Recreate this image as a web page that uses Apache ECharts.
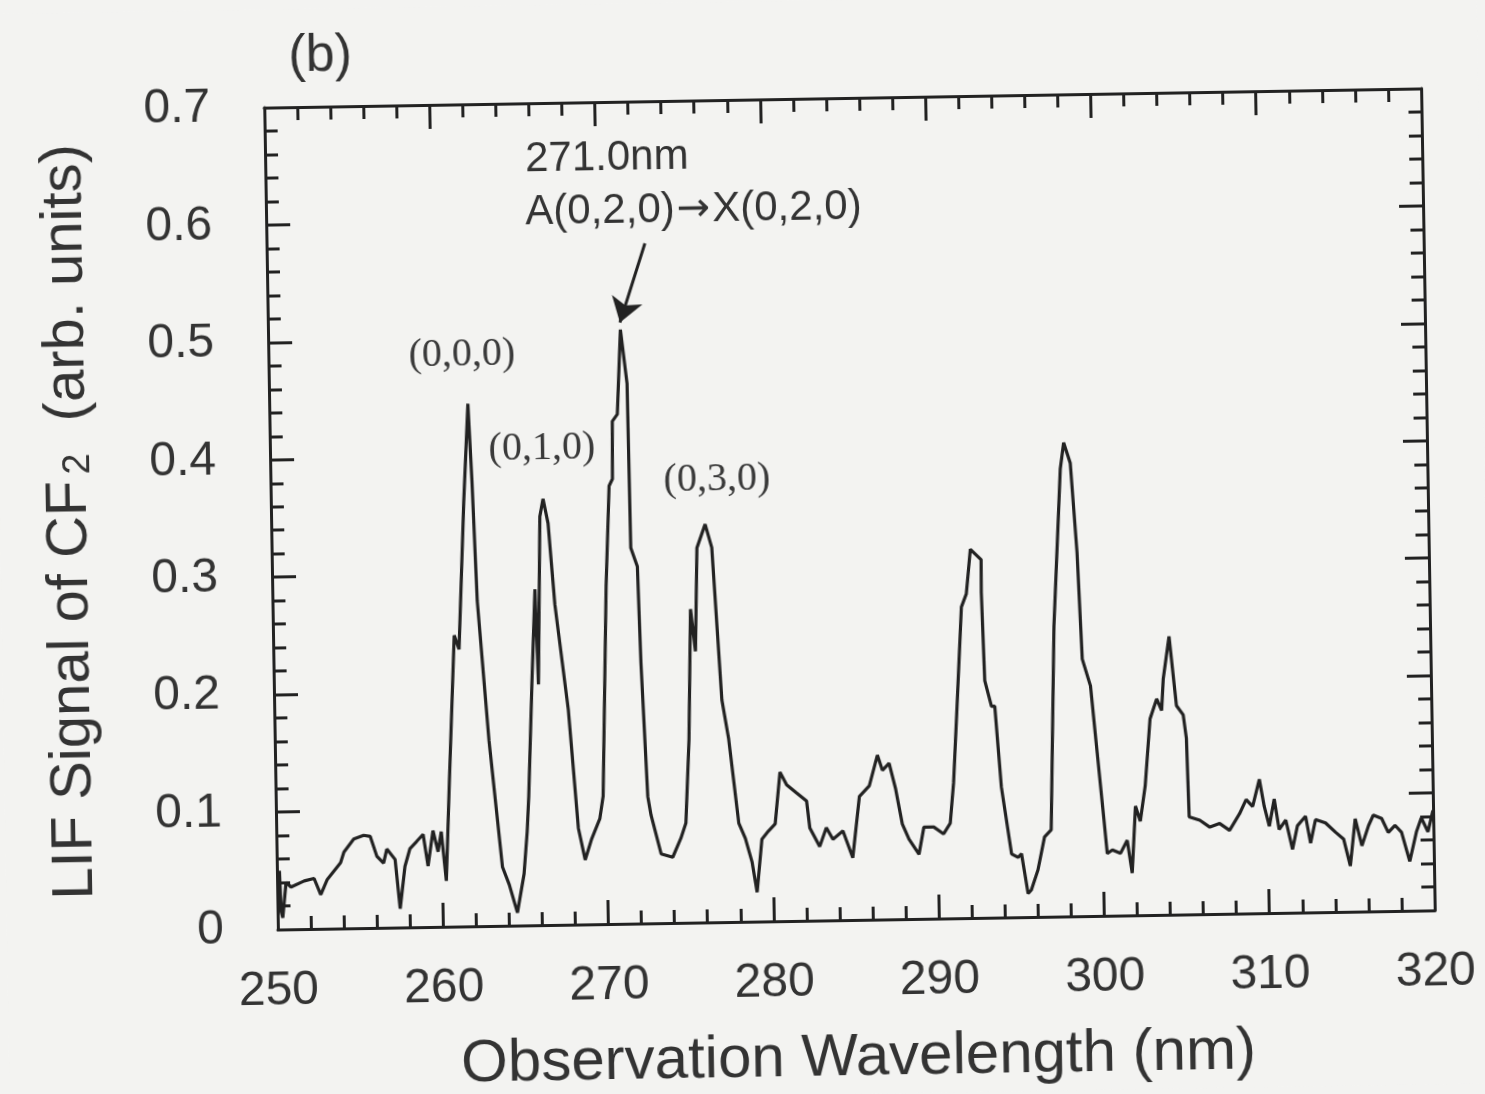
<!DOCTYPE html>
<html>
<head>
<meta charset="utf-8">
<script src="https://cdn.jsdelivr.net/npm/echarts@6/dist/echarts.min.js"></script>
<style>
  html, body { margin: 0; padding: 0; background: #f3f3f1; overflow: hidden; }
  #chart { width: 1485px; height: 1094px; transform: rotate(-0.95deg); transform-origin: 849px 509px; }
</style>
</head>
<body>
<div id="chart"></div>
<script>
// Observation wavelength (nm)
const wavelength = [
  250.15, 250.22, 250.31, 250.54, 250.84, 251.64, 252.24, 252.63, 253.04, 253.86,
  254.07, 254.68, 255.28, 255.68, 256.06, 256.46, 256.67, 257.16, 257.42, 257.75,
  258.07, 258.48, 258.88, 259.15, 259.48, 259.77, 259.98, 260.24, 260.53, 260.96,
  261.24, 261.67, 262.02, 262.19, 262.39, 262.96, 263.65, 264.04, 264.51, 264.95,
  265.18, 265.31, 265.61, 265.89, 266.01, 266.26, 266.47, 266.75, 267.08, 267.79,
  268.28, 268.66, 269.08, 269.59, 269.81, 270.20, 270.48, 270.69, 270.74, 271.05,
  271.32, 271.67, 271.73, 272.11, 272.23, 272.51, 272.69, 273.26, 273.96, 274.47,
  274.79, 275.06, 275.28, 275.54, 275.73, 276.25, 276.63, 277.09, 277.46, 277.99,
  278.37, 278.75, 279.03, 279.37, 279.78, 280.19, 280.53, 280.92, 281.51, 282.11,
  282.28, 282.86, 283.28, 283.67, 284.28, 284.85, 285.31, 285.92, 286.44, 286.73,
  287.14, 287.51, 287.88, 288.27, 288.86, 289.18, 289.78, 290.37, 290.78, 291.02,
  291.28, 291.67, 291.98, 292.27, 292.91, 292.89, 293.01, 293.39, 293.59, 293.91,
  294.46, 294.85, 295.06, 295.42, 295.62, 296.04, 296.47, 296.88, 297.25, 297.79,
  298.02, 298.40, 298.72, 298.93, 299.40, 299.74, 300.08, 300.25, 300.56, 301.05,
  301.47, 301.74, 302.00, 302.28, 302.61, 302.97, 303.39, 303.68, 303.81, 304.20,
  304.58, 304.98, 305.15, 305.24, 305.88, 306.48, 307.08, 307.67, 308.29, 308.70,
  309.09, 309.52, 309.79, 310.08, 310.40, 310.67, 311.08, 311.46, 311.78, 312.28,
  312.56, 312.88, 313.48, 314.07, 314.56, 314.94, 315.28, 315.66, 316.08, 316.38,
  316.88, 317.27, 317.68, 318.07, 318.54, 318.97, 319.28, 319.67, 319.99
];
// LIF signal of CF2 (arb. units)
const signal = [
  0.050, 0.015, 0.010, 0.040, 0.036, 0.041, 0.043, 0.029, 0.042, 0.056,
  0.065, 0.076, 0.079, 0.078, 0.061, 0.055, 0.067, 0.058, 0.016, 0.052,
  0.067, 0.073, 0.079, 0.052, 0.082, 0.064, 0.081, 0.039, 0.126, 0.248,
  0.236, 0.361, 0.445, 0.379, 0.277, 0.158, 0.050, 0.035, 0.011, 0.044,
  0.080, 0.110, 0.205, 0.286, 0.205, 0.348, 0.363, 0.342, 0.273, 0.183,
  0.082, 0.055, 0.073, 0.090, 0.109, 0.288, 0.373, 0.379, 0.428, 0.434,
  0.506, 0.460, 0.320, 0.304, 0.222, 0.108, 0.092, 0.059, 0.056, 0.072,
  0.085, 0.156, 0.267, 0.231, 0.319, 0.339, 0.319, 0.189, 0.156, 0.084,
  0.071, 0.051, 0.025, 0.070, 0.077, 0.083, 0.127, 0.116, 0.109, 0.102,
  0.079, 0.063, 0.079, 0.069, 0.076, 0.053, 0.105, 0.114, 0.140, 0.127,
  0.133, 0.111, 0.081, 0.068, 0.055, 0.078, 0.078, 0.072, 0.081, 0.115,
  0.174, 0.265, 0.276, 0.314, 0.305, 0.277, 0.202, 0.180, 0.180, 0.111,
  0.054, 0.051, 0.054, 0.020, 0.023, 0.040, 0.068, 0.074, 0.247, 0.381,
  0.4035, 0.386, 0.310, 0.219, 0.196, 0.139, 0.082, 0.053, 0.056, 0.053,
  0.064, 0.036, 0.093, 0.080, 0.110, 0.167, 0.184, 0.174, 0.201, 0.237,
  0.178, 0.170, 0.150, 0.083, 0.080, 0.074, 0.077, 0.071, 0.085, 0.097,
  0.091, 0.114, 0.091, 0.074, 0.097, 0.071, 0.079, 0.054, 0.074, 0.082,
  0.059, 0.079, 0.076, 0.068, 0.062, 0.039, 0.079, 0.056, 0.073, 0.082,
  0.079, 0.067, 0.073, 0.067, 0.042, 0.067, 0.079, 0.067, 0.085
];
const xTickLabels = ['250', '260', '270', '280', '290', '300', '310', '320'];
const yTickLabels = ['0', '0.1', '0.2', '0.3', '0.4', '0.5', '0.6', '0.7'];

// band labels (serif) placed in data units
const bandLabels = ['(0,0,0)', '(0,1,0)', '(0,3,0)'];
const bandX = [261.71, 266.45, 277.01];
const bandY = [0.487, 0.406, 0.377];

// peak annotation
const noteLines = ['271.0nm', 'A(0,2,0){arr|\u2192}X(0,2,0)'];
const noteX = [265.70, 265.66];
const noteY = [0.652, 0.607];
const arrowFrom = [272.89, 0.579];
const arrowTo = [271.30, 0.512];

const INK = '#222';
const TXT = '#333';
const SANS = '"Liberation Sans", Arial, Helvetica, sans-serif';
const SERIF = '"Liberation Serif", "Times New Roman", serif';

const data = wavelength.map((w, i) => [w, signal[i]]);

const chart = echarts.init(document.getElementById('chart'), null, { renderer: 'canvas' });

const frameAxis = (extra) => Object.assign({
  type: 'value',
  axisLine: { show: true, onZero: false, lineStyle: { color: INK, width: 3 } },
  axisTick: { show: true, inside: true, length: 24, lineStyle: { color: INK, width: 3 } },
  minorTick: { show: true, splitNumber: 5, length: 13, lineStyle: { color: INK, width: 3 } },
  splitLine: { show: false },
  minorSplitLine: { show: false }
}, extra);

const option = {
  backgroundColor: '#f3f3f1',
  animation: false,
  grid: { left: 271, right: 57, top: 98, bottom: 174, containLabel: false },
  xAxis: [
    frameAxis({
      position: 'bottom', min: 250, max: 320, interval: 10,
      axisLabel: {
        show: true, margin: 38, color: TXT, fontFamily: SANS, fontSize: 48,
        formatter: (v) => xTickLabels[Math.round((v - 250) / 10)]
      },
      name: 'Observation Wavelength (nm)', nameLocation: 'middle', nameGap: 108,
      nameTextStyle: { color: TXT, fontFamily: SANS, fontSize: 60 }
    }),
    frameAxis({ position: 'top', min: 250, max: 320, interval: 10, axisLabel: { show: false } })
  ],
  yAxis: [
    frameAxis({
      position: 'left', min: 0, max: 0.7, interval: 0.1,
      axisLabel: {
        show: true, margin: 54, color: TXT, fontFamily: SANS, fontSize: 48,
        formatter: (v) => yTickLabels[Math.round(v * 10)]
      },
      name: 'LIF Signal of CF{sub|2}  (arb. units)', nameLocation: 'middle', nameGap: 172,
      nameTextStyle: {
        color: TXT, fontFamily: SANS, fontSize: 58,
        rich: { sub: { fontSize: 38, fontFamily: SANS, color: TXT, verticalAlign: 'bottom', padding: [0, 0, 0, 6] } }
      }
    }),
    frameAxis({ position: 'right', min: 0, max: 0.7, interval: 0.1, axisLabel: { show: false } })
  ],
  graphic: [
    { type: 'text', left: 296, top: 22, style: { text: '(b)', fontFamily: SANS, fontSize: 52, fill: TXT } }
  ],
  series: [
    {
      type: 'line',
      data: data,
      showSymbol: false,
      symbol: 'none',
      lineStyle: { color: INK, width: 3.2 },
      z: 3,
      markPoint: {
        silent: true,
        symbol: 'circle',
        symbolSize: 1,
        itemStyle: { color: 'rgba(0,0,0,0)' },
        data: bandLabels.map((t, i) => ({
          name: t, coord: [bandX[i], bandY[i]],
          label: { show: true, position: 'inside', formatter: t, fontFamily: SERIF, fontSize: 40, color: '#3a3a3a' }
        })).concat(noteLines.map((t, i) => ({
          name: t, coord: [noteX[i], noteY[i]],
          label: {
            show: true, position: 'right', distance: 0, formatter: t, fontFamily: SANS, fontSize: 42, color: TXT,
            rich: { arr: { fontFamily: '"DejaVu Sans", sans-serif', fontSize: 40, color: TXT, padding: [0, 2, 0, 2] } }
          }
        })))
      },
      markLine: {
        silent: true,
        symbol: ['none', 'arrow'],
        symbolSize: 24,
        label: { show: false },
        lineStyle: { color: INK, width: 3, type: 'solid' },
        data: [[{ coord: arrowFrom }, { coord: arrowTo }]]
      }
    }
  ]
};
chart.setOption(option);
</script>
</body>
</html>
